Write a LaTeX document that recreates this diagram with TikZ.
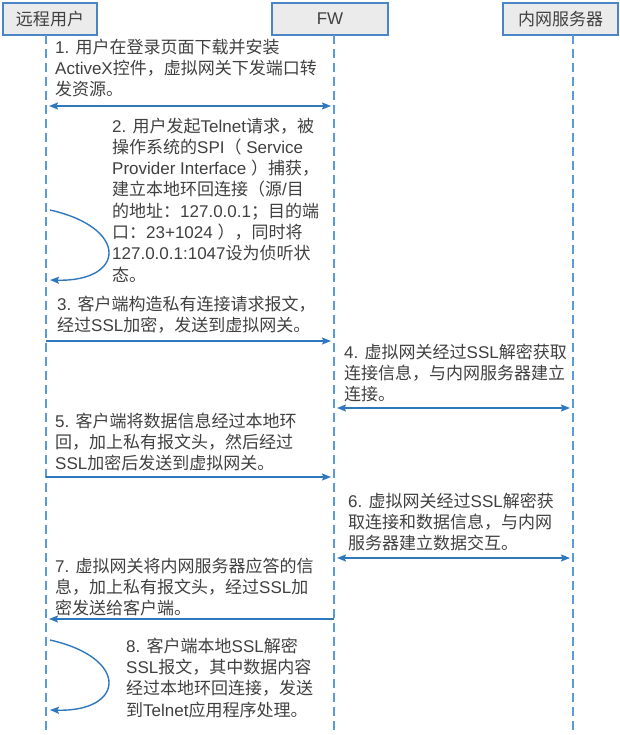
\documentclass[tikz,border=0pt]{standalone}
\usepackage{fontspec}
\setmainfont{Liberation Sans}
\newfontfamily\cjkfont{Noto Sans CJK SC}
% switch to the CJK font for Chinese characters and full-width punctuation
\XeTeXinterchartokenstate=1
\newXeTeXintercharclass\cjkclass
\newcount\cjkcount
\def\setcjkrange#1#2{\cjkcount=#1\relax
  \loop\XeTeXcharclass\cjkcount=\cjkclass\advance\cjkcount by 1\relax
  \ifnum\cjkcount<#2\repeat}
\setcjkrange{"3000}{"3040}
\setcjkrange{"4E00}{"A000}
\setcjkrange{"FF00}{"FFF0}
\XeTeXinterchartoks 0 \cjkclass = {\begingroup\cjkfont}
\XeTeXinterchartoks 4095 \cjkclass = {\begingroup\cjkfont}
\XeTeXinterchartoks \cjkclass 0 = {\endgroup}
\XeTeXinterchartoks \cjkclass 4095 = {\endgroup}
\usetikzlibrary{arrows.meta}
\definecolor{boxline}{HTML}{4A86C5}
\definecolor{boxfill}{HTML}{EBEBEB}
\definecolor{lifeblue}{HTML}{5B9BD5}
\definecolor{msgblue}{HTML}{2F78BE}
\definecolor{msgtext}{HTML}{404040}
\tikzset{
  actor/.style={draw=boxline, fill=boxfill, line width=1.3pt, minimum height=32pt,
    inner sep=0pt, text=msgtext, font=\fontsize{17}{21.3}\selectfont},
  lifeline/.style={draw=lifeblue, line width=1.5pt, dash pattern=on 9pt off 5pt},
  msg/.style={draw=msgblue, line width=1.4pt, -{Stealth[length=9pt,width=7pt,inset=1.5pt]},
    shorten >=3pt},
  msgboth/.style={msg, {Stealth[length=9pt,width=7pt,inset=1.5pt]}-{Stealth[length=9pt,width=7pt,inset=1.5pt]},
    shorten <=3pt},
  note/.style={anchor=north west, align=left, inner sep=0pt, text=msgtext,
    font=\fontsize{17}{21.3}\selectfont}
}
\begin{document}
\begin{tikzpicture}[x=1pt, y=-1pt]
  \useasboundingbox (0, 0) rectangle (620, 735);
  % header boxes
  \node[actor, minimum width=94pt] (user) at (50, 19) {远程用户};
  \node[actor, minimum width=116pt] (fw) at (330, 19) {FW};
  \node[actor, minimum width=115pt] (server) at (560.5, 19) {内网服务器};
  % lifelines
  \coordinate (usertop) at (46, 35);
  \coordinate (fwtop) at (334, 35);
  \coordinate (servertop) at (573, 35);
  \coordinate (bottom) at (0, 735);
  \draw[lifeline] (usertop) -- (usertop |- bottom);
  \draw[lifeline] (fwtop) -- (fwtop |- bottom);
  \draw[lifeline] (servertop) -- (servertop |- bottom);
  % message levels
  \coordinate (m1) at (0, 106);
  \coordinate (m3) at (0, 341);
  \coordinate (m4) at (0, 408);
  \coordinate (m5) at (0, 477);
  \coordinate (m6) at (0, 558);
  \coordinate (m7) at (0, 619);
  % step 1
  \node[note] (t1) at (55, 38.5) {1. 用户在登录页面下载并安装\\ActiveX控件，虚拟网关下发端口转\\发资源。};
  \draw[msgboth] (usertop |- m1) -- (fwtop |- m1);
  % step 2
  \node[note] (t2) at (112, 117.5) {2. 用户发起Telnet请求，被\\操作系统的SPI（ Service\\Provider Interface ）捕获，\\建立本地环回连接（源/目\\的地址：127.0.0.1；目的端\\口：23+1024 ），同时将\\127.0.0.1:1047设为侦听状\\态。};
  \coordinate (loop2a) at (50, 210);
  \coordinate (loop2b) at (50, 280);
  \draw[msg, shorten >=0pt] (loop2a) .. controls (130, 228) and (125, 282) .. (loop2b);
  % step 3
  \node[note] (t3) at (57, 295.5) {3. 客户端构造私有连接请求报文，\\经过SSL加密，发送到虚拟网关。};
  \draw[msg] (usertop |- m3) -- (fwtop |- m3);
  % step 4
  \node[note] (t4) at (344, 343.5) {4. 虚拟网关经过SSL解密获取\\连接信息，与内网服务器建立\\连接。};
  \draw[msgboth] (fwtop |- m4) -- (servertop |- m4);
  % step 5
  \node[note] (t5) at (55, 412.5) {5. 客户端将数据信息经过本地环\\回，加上私有报文头，然后经过\\SSL加密后发送到虚拟网关。};
  \draw[msg] (usertop |- m5) -- (fwtop |- m5);
  % step 6
  \node[note] (t6) at (348, 492.5) {6. 虚拟网关经过SSL解密获\\取连接和数据信息，与内网\\服务器建立数据交互。};
  \draw[msgboth] (fwtop |- m6) -- (servertop |- m6);
  % step 7
  \node[note] (t7) at (55, 557.5) {7. 虚拟网关将内网服务器应答的信\\息，加上私有报文头，经过SSL加\\密发送给客户端。};
  \draw[msg] (fwtop |- m7) -- (usertop |- m7);
  % step 8
  \node[note] (t8) at (126, 637.5) {8. 客户端本地SSL解密\\SSL报文，其中数据内容\\经过本地环回连接，发送\\到Telnet应用程序处理。};
  \coordinate (loop8a) at (50, 640);
  \coordinate (loop8b) at (50, 710);
  \draw[msg, shorten >=0pt] (loop8a) .. controls (130, 658) and (125, 712) .. (loop8b);
\end{tikzpicture}
\end{document}
